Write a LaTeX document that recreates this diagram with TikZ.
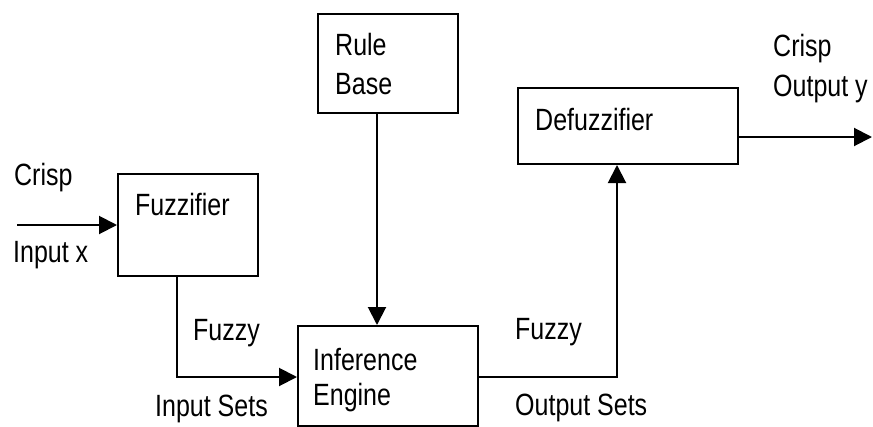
\documentclass[tikz,border=0pt]{standalone}
\usepackage{fontspec}
\setmainfont{Liberation Sans}
\usetikzlibrary{arrows.meta}
\newcommand{\lbltxt}[1]{\scalebox{1}[1.23]{#1}}
\begin{document}
\begin{tikzpicture}[x=1pt,y=-1pt,
  box/.style={draw=black, line width=2pt, inner sep=0pt, anchor=north west},
  lbl/.style={anchor=base west, inner sep=0pt, font=\fontsize{25}{30}\selectfont},
  arr/.style={draw=black, line width=2pt, -{Triangle[length=18pt,width=18pt]}},
  ln/.style={draw=black, line width=2pt}]
\useasboundingbox[fill=white] (0,0) rectangle (873,426);
% boxes
\node[box, minimum width=140pt, minimum height=102pt] (fuzz) at (117,173) {};
\node[box, minimum width=140pt, minimum height=99pt] (rb) at (317,13) {};
\node[box, minimum width=220pt, minimum height=76pt] (defuz) at (517,87) {};
\node[box, minimum width=180pt, minimum height=100pt] (inf) at (297,325) {};
% box texts
\node[lbl] (tfuzz) at (135,215) {\lbltxt{Fuzzifier}};
\node[lbl] (trule) at (335,55) {\lbltxt{Rule}};
\node[lbl] (tbase) at (335,94) {\lbltxt{Base}};
\node[lbl] (tdefuz) at (535,130) {\lbltxt{Defuzzifier}};
\node[lbl] (tinf) at (313,370) {\lbltxt{Inference}};
\node[lbl] (teng) at (313,405) {\lbltxt{Engine}};
% connector labels
\node[lbl] (tcrispin) at (14,185) {\lbltxt{Crisp}};
\node[lbl] (tinx) at (13,262) {\lbltxt{Input x}};
\node[lbl] (tfzl) at (193,340) {\lbltxt{Fuzzy}};
\node[lbl] (tinsets) at (155,416) {\lbltxt{Input Sets}};
\node[lbl] (tfzr) at (515,339) {\lbltxt{Fuzzy}};
\node[lbl] (toutsets) at (515,415) {\lbltxt{Output Sets}};
\node[lbl] (tcrispout) at (773,56) {\lbltxt{Crisp}};
\node[lbl] (touty) at (773,96) {\lbltxt{Output y}};
% free ends
\coordinate (in) at (17,225);
\coordinate (out) at (872,137);
% connectors
\draw[arr] (in) -- (in -| fuzz.west);
\draw[arr] (fuzz.south -| 177,0) |- (inf.west |- 0,377);
\draw[arr] (rb.south -| 377,0) -- (inf.north -| 377,0);
\draw[arr] (inf.east |- 0,377) -| (defuz.south -| 617,0);
\draw[arr] (defuz.east |- out) -- (out);
\end{tikzpicture}
\end{document}
